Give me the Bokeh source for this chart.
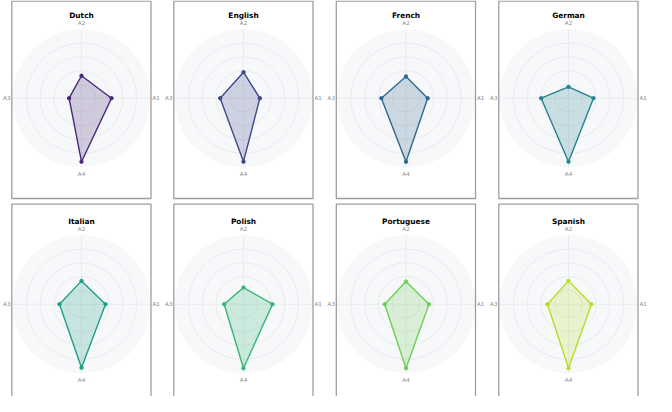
import math
from bokeh.plotting import figure
from bokeh.models import Range1d
from bokeh.core.properties import value
from bokeh.embed import file_html
from bokeh.resources import INLINE

# ---- data ----
languages = ["Dutch", "English", "French", "German",
             "Italian", "Polish", "Portuguese", "Spanish"]
axes_labels = ["A1", "A2", "A3", "A4"]
a1 = [43.5, 23.7, 31.4, 36.2, 34.8, 42.0, 33.3, 33.3]
a2 = [32.5, 37.7, 31.4, 16.4, 33.8, 24.2, 32.9, 33.8]
a3 = [18.0, 33.8, 35.7, 39.6, 31.9, 28.0, 30.9, 30.4]
a4 = [92.0, 92.0, 92.0, 92.0, 92.0, 92.8, 92.8, 92.8]
r_max = 100.0
ring_levels = [20, 40, 60, 80, 100]
colors = ["#482878", "#3e4989", "#31688e", "#26828e",
          "#1f9e89", "#35b779", "#6ece58", "#b5de2b"]

# ---- layout (screen px) ----
col_cx = [89.0, 251.0, 413.5, 576.0]
row_cy = [105.7, 311.7]
R = 69.0

W, H = 656, 396
p = figure(width=W, height=H, output_backend="svg", toolbar_location=None,
           x_range=Range1d(8, 8 + W), y_range=Range1d(8 + H, 8),
           min_border=0)
p.xaxis.visible = False
p.yaxis.visible = False
p.xgrid.visible = False
p.ygrid.visible = False
p.outline_line_color = None
p.background_fill_color = "white"

angles = [0.0, math.pi / 2, math.pi, 3 * math.pi / 2]

cxs, cys = [], []
for i in range(len(languages)):
    cxs.append(col_cx[i % 4])
    cys.append(row_cy[i // 4])

# background discs
p.circle(x=cxs, y=cys, radius=R, fill_color="#f7f8fa", line_color=None)
# rings
for lv in ring_levels[:-1]:
    p.circle(x=cxs, y=cys, radius=R * lv / r_max, fill_color=None,
             line_color="#e9ebee", line_width=1)
# spokes
sx, sy = [], []
for cx, cy in zip(cxs, cys):
    sx.append([cx - R, cx + R]); sy.append([cy, cy])
    sx.append([cx, cx]); sy.append([cy - R, cy + R])
p.multi_line(xs=sx, ys=sy, line_color="#e9ebee", line_width=1)

# radar polygons
for i in range(len(languages)):
    vals = [a1[i], a2[i], a3[i], a4[i]]
    xs = [cxs[i] + R * v / r_max * math.cos(a) for v, a in zip(vals, angles)]
    ys = [cys[i] - R * v / r_max * math.sin(a) for v, a in zip(vals, angles)]
    p.patch(xs + [xs[0]], ys + [ys[0]], fill_color=colors[i], fill_alpha=0.22,
            line_color=colors[i], line_width=1.4)
    p.scatter(xs, ys, size=3.4, fill_color=colors[i], line_color=colors[i])

# axis labels
lx, ly, lt, la = [], [], [], []
off = 72.0
for cx, cy in zip(cxs, cys):
    lx += [cx + off - 1, cx, cx - off + 1, cx]
    ly += [cy, cy - 75.5, cy, cy + 75.5]
    lt += axes_labels
    la += ["left", "center", "right", "center"]
p.text(x=lx, y=ly, text=lt, text_align=la, text_baseline="middle",
       text_font=value("DejaVu Sans"), text_font_size="5.6px",
       text_color="#8a8a8a")

# titles
p.text(x=cxs, y=[cy - 82.5 for cy in cys], text=languages,
       text_align="center", text_baseline="middle",
       text_font=value("DejaVu Sans"), text_font_style="bold",
       text_font_size="7.4px", text_color="#000000")

# panel frames
for i in range(len(languages)):
    cx, cy = cxs[i], cys[i]
    left, right = cx - 69.7, cx + 69.5
    if i < 4:
        top, bottom = 8.7, cy + 100.3
    else:
        top, bottom = cy - 100.0, cy + 101.0
    p.quad(left=left, right=right, top=top, bottom=bottom,
           fill_color=None, line_color="#9e9e9e", line_width=1.3)

open("out.html", "w").write(file_html(p, INLINE))
